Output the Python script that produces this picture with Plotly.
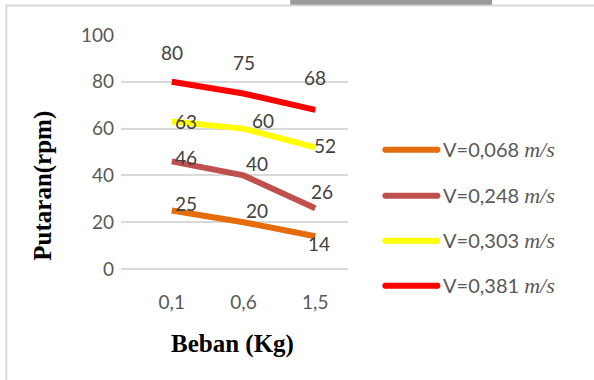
import plotly.graph_objects as go

# ---- data ----
categories = ["0,1", "0,6", "1,5"]
series_names = ["V=0,068", "V=0,248", "V=0,303", "V=0,381"]
unit_label = "m/s"
v_0068 = [25, 20, 14]
v_0248 = [46, 40, 26]
v_0303 = [63, 60, 52]
v_0381 = [80, 75, 68]
y_ticks = [0, 20, 40, 60, 80, 100]
x_title = "Beban (Kg)"
y_title = "Putaran(rpm)"

series_values = [v_0068, v_0248, v_0303, v_0381]
colors = ["#E46C0A", "#C0504D", "#FFFF00", "#FF0000"]
# label offsets (px) relative to each point
label_offsets = [
    [(14, -7), (13, -12), (4, 7)],
    [(14, -4), (13, -12), (7, -17)],
    [(14, 0), (19, -8), (10, -2)],
    [(0, -29), (0, -31), (0, -32)],
]

W, H = 594, 380
L, R = 121, 347.7
T, B = 35, 269.3
FONT = "Lato, Open Sans, sans-serif"


def px(x):
    return (x - L) / (R - L)


def py(y):
    return (B - y) / (B - T)


xs = list(range(len(categories)))
fig = go.Figure()
for name, vals, col in zip(series_names, series_values, colors):
    fig.add_trace(go.Scatter(
        x=xs, y=vals, mode="lines", name=name,
        line=dict(color=col, width=6, shape="linear"),
        showlegend=False, hoverinfo="skip",
    ))

annotations = []
for vals, offs in zip(series_values, label_offsets):
    for xi, v, (dx, dy) in zip(xs, vals, offs):
        annotations.append(dict(
            x=xi, y=v, xref="x", yref="y", text=str(v), showarrow=False,
            xanchor="center", yanchor="middle",
            xshift=dx, yshift=-dy,
            font=dict(family=FONT, size=19, color="#404040"),
        ))

# custom legend
legend_y = [150, 196, 241, 286]
shapes = []
for name, col, ly in zip(series_names, colors, legend_y):
    shapes.append(dict(type="line", xref="paper", yref="paper",
                       x0=px(385), x1=px(437), y0=py(ly), y1=py(ly),
                       line=dict(color=col, width=6)))
    shapes.append(dict(type="circle", xref="paper", yref="paper",
                       x0=px(382), x1=px(388), y0=py(ly - 3), y1=py(ly + 3),
                       fillcolor=col, line=dict(width=0)))
    shapes.append(dict(type="circle", xref="paper", yref="paper",
                       x0=px(434), x1=px(440), y0=py(ly - 3), y1=py(ly + 3),
                       fillcolor=col, line=dict(width=0)))
    annotations.append(dict(
        x=px(441), y=py(ly), xref="paper", yref="paper", xanchor="left",
        yanchor="middle", showarrow=False,
        text=name + " <span style='font-family:Liberation Serif;font-size:22px'><i>" + unit_label + "</i></span>",
        font=dict(family=FONT, size=20, color="#595959"),
    ))

# axis titles
annotations.append(dict(
    x=px(232), y=py(344), xref="paper", yref="paper", showarrow=False,
    xanchor="center", yanchor="middle",
    text="<b>" + x_title + "</b>",
    font=dict(family="Liberation Serif, Times New Roman, serif", size=25, color="#000000"),
))
annotations.append(dict(
    x=px(43), y=py(186), xref="paper", yref="paper", showarrow=False,
    xanchor="center", yanchor="middle",
    text="<b>" + y_title + "</b>", textangle=-90,
    font=dict(family="Liberation Serif, Times New Roman, serif", size=25, color="#000000"),
))

# frame and top bar
shapes.append(dict(type="line", xref="paper", yref="paper",
                   x0=px(6.5), x1=px(6.5), y0=py(5.5), y1=py(381),
                   line=dict(color="#D9D9D9", width=2)))
shapes.append(dict(type="line", xref="paper", yref="paper",
                   x0=px(5.5), x1=px(595), y0=py(5.5), y1=py(5.5),
                   line=dict(color="#D9D9D9", width=2)))
shapes.append(dict(type="rect", xref="paper", yref="paper",
                   x0=px(290), x1=px(491.5), y0=py(0), y1=py(4.7),
                   fillcolor="#9A9A9A", line=dict(width=0)))

xr0 = (L - 171.7) / 71.65
xr1 = (R - 171.7) / 71.65
fig.update_layout(
    width=W, height=H,
    margin=dict(l=L, r=W - R, t=T, b=H - B, pad=0),
    paper_bgcolor="white", plot_bgcolor="white",
    showlegend=False,
    xaxis=dict(range=[xr0, xr1], tickvals=xs, ticktext=categories,
               showgrid=False, zeroline=False, showline=False, ticks="",
               ticklabelstandoff=20,
               tickfont=dict(family=FONT, size=19, color="#595959")),
    yaxis=dict(range=[0, 100], tickvals=y_ticks, showgrid=True,
               gridcolor="#D9D9D9", gridwidth=1.5, zeroline=True,
               zerolinecolor="#D9D9D9", zerolinewidth=1.5, showline=False,
               ticks="", ticklabelstandoff=6,
               tickfont=dict(family=FONT, size=19, color="#595959")),
    annotations=annotations, shapes=shapes,
)

fig.write_html("out.html", config={"displayModeBar": False},
               post_script="document.body.style.margin='0';")
